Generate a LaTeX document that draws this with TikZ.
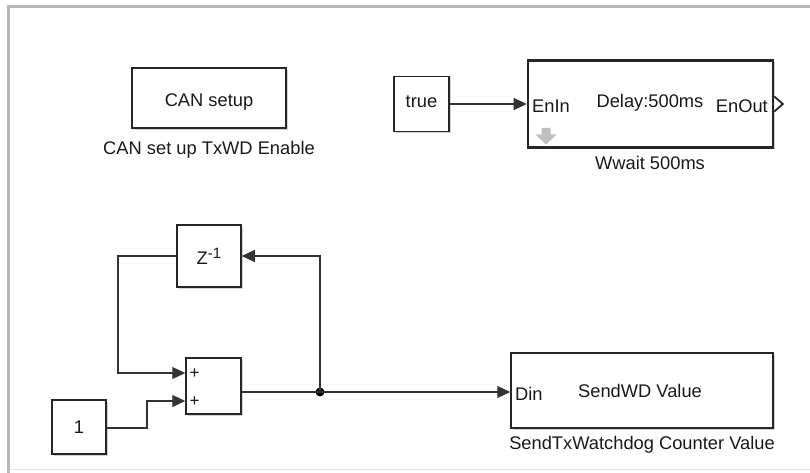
\documentclass[tikz,border=0pt]{standalone}
\usepackage{fontspec}
\setmainfont{Liberation Sans}
\usetikzlibrary{arrows.meta,shadows,calc}
\begin{document}
\begin{tikzpicture}[x=1pt,y=-1pt,
  font=\fontsize{18.3}{21}\selectfont,
  blk/.style={draw=black!85,line width=1.5pt,fill=white,rectangle,inner sep=0pt,
    drop shadow={shadow xshift=1.6pt,shadow yshift=-1.6pt,opacity=0.35,fill=black!50}},
  thickblk/.style={blk,line width=2.6pt},
  sig/.style={draw=black!80,line width=1.1pt,-{Triangle[length=13pt,width=12pt]}},
  wire/.style={draw=black!80,line width=1.1pt},
  lbl/.style={inner sep=0pt,text=black!90},
  port/.style={inner sep=0pt,text=black!90}]
\useasboundingbox (0,0) rectangle (810,473);
% frame
\draw[black!28,line width=2.6pt] (8.3,473) coordinate (fl) -- (8.3,6.3) coordinate (ft) -- (810,6.3) coordinate (fr);
\draw[black!10,line width=1pt] (9.6,469.5) coordinate (fb1) -- (810,469.5) coordinate (fb2);

% CAN setup
\node[blk,minimum width=154pt,minimum height=60pt] (can) at (209,98) {};
\node[lbl] (cant) at (209,102) {CAN setup};
\node[lbl] (canl) at (209,150) {CAN set up TxWD Enable};

% true constant
\node[blk,minimum width=55pt,minimum height=55pt] (tru) at (421.5,104) {};
\node[lbl] (trut) at (421.5,102) {true};

% wait block
\node[thickblk,minimum width=245pt,minimum height=87pt] (wait) at (650.5,104) {};
\node[port,anchor=west] (enin) at (532,106) {EnIn};
\node[lbl] (delay) at (650,103) {Delay:500ms};
\node[port,anchor=east] (enout) at (768,106) {EnOut};
\node[lbl] (waitl) at (650,163) {Wwait 500ms};
\draw[black!85,line width=1.8pt,fill=white] (wait.east |- 0,96.5) coordinate (op1) -- ++(8.5,7.5) coordinate (op2) -- ++(-8.5,7.5) coordinate (op3);
\fill[black!25] (541.5,128) -- (550.5,128) -- (550.5,134.5) -- (556.5,134.5) -- (546,144.5) -- (535.5,134.5) -- (541.5,134.5) -- cycle;
\draw[sig] (tru) -- (wait);

% unit delay
\node[blk,minimum width=64pt,minimum height=62pt] (zd) at (209,256) {};
\node[lbl] (zdt) at (209,256) {Z\raisebox{6pt}{\fontsize{15}{15}\selectfont -1}};

% sum
\node[blk,minimum width=55pt,minimum height=56pt] (sum) at (213.5,386) {};
\coordinate (s1) at (sum.west |- 0,373);
\coordinate (s2) at (sum.west |- 0,401);
\coordinate (so) at (sum.east |- 0,392);
\node[port,font=\fontsize{17}{18}\selectfont,anchor=west] (p1) at (189.5,373.5) {+};
\node[port,font=\fontsize{17}{18}\selectfont,anchor=west] (p2) at (189.5,401.5) {+};

% constant 1
\node[blk,minimum width=54pt,minimum height=54pt] (one) at (79,427) {};
\node[lbl] (onet) at (79,427) {1};

% send block
\node[blk,minimum width=262pt,minimum height=75pt] (send) at (642,390.5) {};
\coordinate (din) at (send.west |- 0,392);
\node[port,anchor=west] (dint) at (515,394) {Din};
\node[lbl] (sendt) at (640,391) {SendWD Value};
\node[lbl] (sendl) at (642,445) {SendTxWatchdog Counter Value};

% junction
\coordinate (jn) at (320,392);
\fill[black] (jn) circle (4.5pt);

% wires
\draw[sig] (zd.west) -- (118,256) |- (s1);
\draw[sig] (one.east |- 0,428) -- (147,428) |- (s2);
\draw[wire] (so) -- (jn);
\draw[sig] (jn) -- (din);
\draw[sig] (jn) |- (zd.east);
\end{tikzpicture}
\end{document}
